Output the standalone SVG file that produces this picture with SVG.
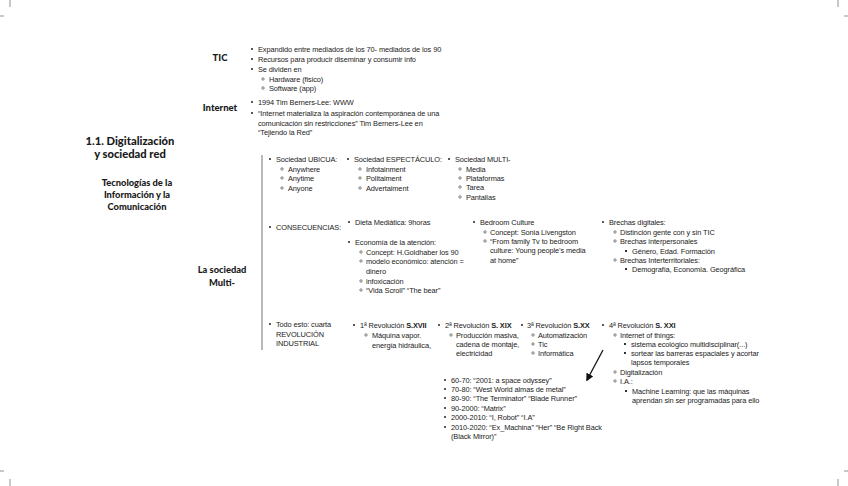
<svg xmlns="http://www.w3.org/2000/svg" xmlns:xlink="http://www.w3.org/1999/xlink" width="848" height="486" viewBox="0 0 848 486">
<style>
.t{font-family:"Liberation Sans",Arial,sans-serif;font-size:7.4px;fill:#222;letter-spacing:-0.1px}
.h{font-family:Lato,"Liberation Sans",sans-serif;font-weight:900;fill:#1a1a1a;text-anchor:middle}
.crop{stroke:#777;stroke-width:0.8}
</style>
<defs>
<circle id="d1" r="1.1" fill="#333"/>
<circle id="d2" r="1.2" fill="none" stroke="#333" stroke-width="0.6"/>
<rect id="d3" x="-1" y="-1" width="2" height="2" fill="#333"/>
<marker id="ah" viewBox="0 0 10 10" refX="8" refY="5" markerWidth="6" markerHeight="6" orient="auto"><path d="M0,0 L10,5 L0,10 z" fill="#111"/></marker>
</defs>
<rect width="848" height="486" fill="#fff"/>
<g id="cropmarks" class="crop">
<line x1="10" y1="0" x2="10" y2="7"/><line x1="0" y1="16" x2="4" y2="16"/>
<line x1="838" y1="0" x2="838" y2="7"/><line x1="844" y1="16" x2="848" y2="16"/>
<line x1="0" y1="471" x2="4" y2="471"/><line x1="10" y1="479" x2="10" y2="486"/>
<line x1="844" y1="471" x2="848" y2="471"/><line x1="838" y1="479" x2="838" y2="486"/>
</g>
<g id="connectors">
<line x1="262" y1="155" x2="262" y2="350" stroke="#8a8a8a" stroke-width="1.2"/>
<line x1="603" y1="350" x2="587" y2="380" stroke="#111" stroke-width="1.3" marker-end="url(#ah)"/>
</g>
<g id="title">
<text class="h" x="130" y="145" font-size="11.2">1.1. Digitalización</text>
<text class="h" x="130" y="158" font-size="11.2">y sociedad red</text>
</g>
<g id="tic-head">
<text class="h" x="137" y="186" font-size="9.3">Tecnologías de la</text>
<text class="h" x="137" y="198" font-size="9.3">Información y la</text>
<text class="h" x="137" y="210" font-size="9.3">Comunicación</text>
</g>
<g id="multi-head">
<text class="h" x="222" y="273" font-size="9.3">La sociedad</text>
<text class="h" x="222" y="286" font-size="9.3">Multi-</text>
</g>
<g id="tic">
<text class="h" x="220" y="61" font-size="9.5">TIC</text>
<use href="#d1" x="252" y="49"/><text class="t" x="258" y="52">Expandido entre mediados de los 70- mediados de los 90</text>
<use href="#d1" x="252" y="59"/><text class="t" x="258" y="62">Recursos para producir diseminar y consumir info</text>
<use href="#d1" x="252" y="69"/><text class="t" x="258" y="72">Se dividen en</text>
<use href="#d2" x="263" y="79"/><text class="t" x="269" y="82">Hardware (fisico)</text>
<use href="#d2" x="263" y="88"/><text class="t" x="269" y="91">Software (app)</text>
</g>
<g id="internet">
<text class="h" x="220" y="111" font-size="9.5">Internet</text>
<use href="#d1" x="252" y="102"/><text class="t" x="258" y="105">1994 Tim Berners-Lee: WWW</text>
<use href="#d1" x="252" y="113"/><text class="t" x="258" y="116">“Internet materializa la aspiración contemporánea de una</text>
<text class="t" x="258" y="126">comunicación sin restricciones”  Tim Berners-Lee en</text>
<text class="t" x="258" y="135">“Tejiendo la Red”</text>
</g>
<g id="ubicua">
<use href="#d1" x="270" y="159"/><text class="t" x="276" y="162">Sociedad UBICUA:</text>
<use href="#d2" x="282" y="169"/><text class="t" x="288" y="172">Anywhere</text>
<use href="#d2" x="282" y="178"/><text class="t" x="288" y="181">Anytime</text>
<use href="#d2" x="282" y="188"/><text class="t" x="288" y="191">Anyone</text>
</g>
<g id="espectaculo">
<use href="#d1" x="348" y="159"/><text class="t" x="354" y="162">Sociedad ESPECTÁCULO:</text>
<use href="#d2" x="360" y="169"/><text class="t" x="366" y="172">Infotainment</text>
<use href="#d2" x="360" y="178"/><text class="t" x="366" y="181">Politaiment</text>
<use href="#d2" x="360" y="188"/><text class="t" x="366" y="191">Advertaiment</text>
</g>
<g id="multi">
<use href="#d1" x="449" y="159"/><text class="t" x="455" y="162">Sociedad MULTI-</text>
<use href="#d2" x="460" y="169"/><text class="t" x="466" y="172">Media</text>
<use href="#d2" x="460" y="178"/><text class="t" x="466" y="181">Plataformas</text>
<use href="#d2" x="460" y="187"/><text class="t" x="466" y="190">Tarea</text>
<use href="#d2" x="460" y="197"/><text class="t" x="466" y="200">Pantallas</text>
</g>
<g id="consecuencias">
<use href="#d1" x="270" y="227"/><text class="t" x="276" y="230">CONSECUENCIAS:</text>
</g>
<g id="dieta">
<use href="#d1" x="349" y="222"/><text class="t" x="355" y="225">Dieta Mediática: 9horas</text>
<use href="#d1" x="349" y="242"/><text class="t" x="355" y="245">Economía de la atención:</text>
<use href="#d2" x="361" y="252"/><text class="t" x="366" y="255">Concept: H.Goldhaber los 90</text>
<use href="#d2" x="361" y="261"/><text class="t" x="366" y="264">modelo económico: atención =</text>
<text class="t" x="366" y="274">dinero</text>
<use href="#d2" x="361" y="281"/><text class="t" x="366" y="284">infoxicación</text>
<use href="#d2" x="361" y="290"/><text class="t" x="366" y="293">“Vida Scroll” “The bear”</text>
</g>
<g id="bedroom">
<use href="#d1" x="474" y="222"/><text class="t" x="480" y="225">Bedroom Culture</text>
<use href="#d2" x="485" y="232"/><text class="t" x="490" y="235">Concept: Sonia Livengston</text>
<use href="#d2" x="485" y="241"/><text class="t" x="490" y="244">“From family Tv to bedroom</text>
<text class="t" x="490" y="253">culture: Young people’s media</text>
<text class="t" x="490" y="263">at home”</text>
</g>
<g id="brechas">
<use href="#d1" x="603" y="222"/><text class="t" x="609" y="225">Brechas digitales:</text>
<use href="#d2" x="615" y="232"/><text class="t" x="620" y="235">Distinción gente con y sin TIC</text>
<use href="#d2" x="615" y="241"/><text class="t" x="620" y="244">Brechas interpersonales</text>
<use href="#d3" x="626" y="251"/><text class="t" x="632" y="254">Género, Edad. Formación</text>
<use href="#d2" x="615" y="260"/><text class="t" x="620" y="263">Brechas Interterritoriales:</text>
<use href="#d3" x="626" y="269"/><text class="t" x="632" y="272">Demografía, Economía. Geográfica</text>
</g>
<g id="todo">
<use href="#d1" x="270" y="324"/><text class="t" x="276" y="327">Todo esto: cuarta</text>
<text class="t" x="276" y="337">REVOLUCIÓN</text>
<text class="t" x="276" y="346">INDUSTRIAL</text>
</g>
<g id="rev1">
<use href="#d1" x="354" y="325"/><text class="t" x="360" y="328">1ª Revolución <tspan font-weight="bold">S.XVII</tspan></text>
<use href="#d2" x="366" y="335"/><text class="t" x="372" y="338">Máquina vapor.</text>
<text class="t" x="372" y="348">energía hidráulica,</text>
</g>
<g id="rev2">
<use href="#d1" x="439" y="325"/><text class="t" x="445" y="328">2ª Revolución <tspan font-weight="bold">S. XIX</tspan></text>
<use href="#d2" x="451" y="335"/><text class="t" x="456" y="338">Producción masiva,</text>
<text class="t" x="456" y="347">cadena de montaje,</text>
<text class="t" x="456" y="356">electricidad</text>
</g>
<g id="rev3">
<use href="#d1" x="522" y="325"/><text class="t" x="527" y="328">3ª Revolución <tspan font-weight="bold">S.XX</tspan></text>
<use href="#d2" x="533" y="335"/><text class="t" x="538" y="338">Automatización</text>
<use href="#d2" x="533" y="344"/><text class="t" x="538" y="347">Tic</text>
<use href="#d2" x="533" y="353"/><text class="t" x="538" y="356">Informática</text>
</g>
<g id="rev4">
<use href="#d1" x="603" y="325"/><text class="t" x="609" y="328">4ª Revolución <tspan font-weight="bold">S. XXI</tspan></text>
<use href="#d2" x="615" y="335"/><text class="t" x="620" y="338">Internet of things:</text>
<use href="#d3" x="625" y="344"/><text class="t" x="631" y="347">sistema ecológico multidisciplinar(...)</text>
<use href="#d3" x="625" y="353"/><text class="t" x="631" y="356">sortear las barreras espaciales y acortar</text>
<text class="t" x="631" y="365">lapsos temporales</text>
<use href="#d2" x="615" y="372"/><text class="t" x="620" y="375">Digitalización</text>
<use href="#d2" x="615" y="381"/><text class="t" x="620" y="384">I.A.:</text>
<use href="#d3" x="626" y="391"/><text class="t" x="632" y="394">Machine Learning: que las máquinas</text>
<text class="t" x="632" y="403">aprendan sin ser programadas para ello</text>
</g>
<g id="peliculas">
<use href="#d1" x="445" y="380"/><text class="t" x="451" y="383">60-70: “2001: a space odyssey”</text>
<use href="#d1" x="445" y="389"/><text class="t" x="451" y="392">70-80: “West World almas de metal”</text>
<use href="#d1" x="445" y="398"/><text class="t" x="451" y="401">80-90: “The Terminator” “Blade Runner”</text>
<use href="#d1" x="445" y="408"/><text class="t" x="451" y="411">90-2000: “Matrix”</text>
<use href="#d1" x="445" y="417"/><text class="t" x="451" y="420">2000-2010: “I, Robot” “I.A”</text>
<use href="#d1" x="445" y="427"/><text class="t" x="451" y="430">2010-2020: “Ex_Machina” “Her” “Be Right Back</text>
<text class="t" x="451" y="439">(Black Mirror)”</text>
</g>
</svg>
